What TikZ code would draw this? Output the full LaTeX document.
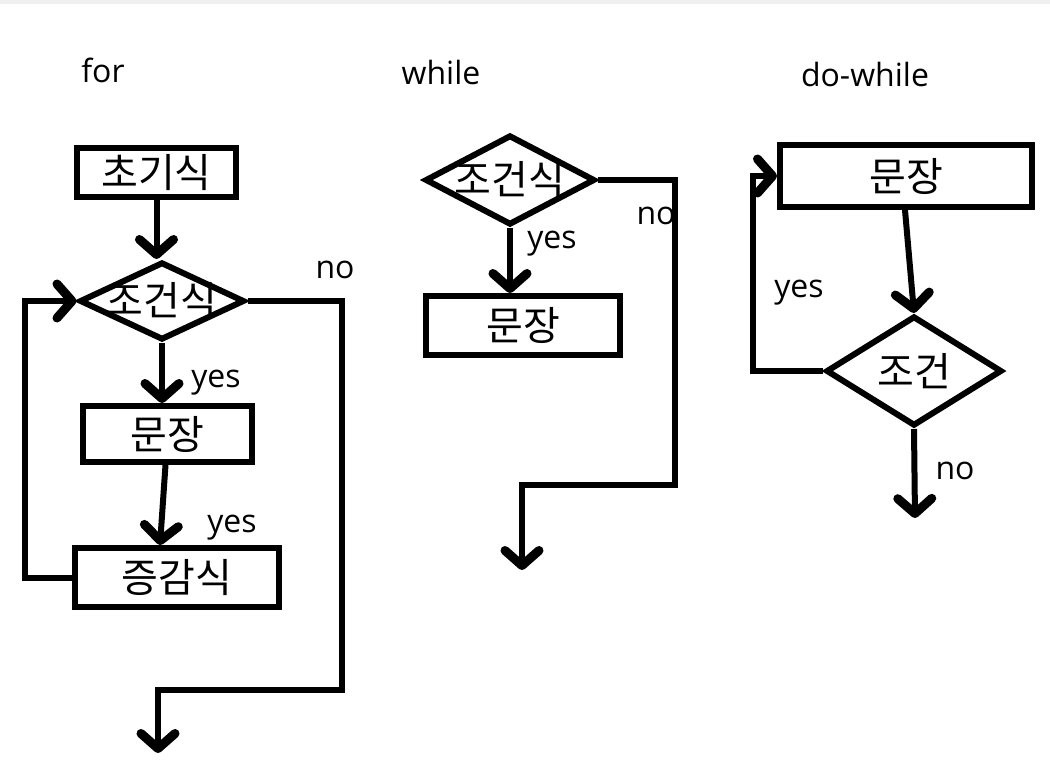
\documentclass[tikz,border=0pt]{standalone}
\usepackage{fontspec}
\setmainfont{Open Sans}
\newfontfamily\kor{Noto Sans CJK KR}
\usetikzlibrary{arrows.meta,shapes.geometric,positioning}

\begin{document}
\begin{tikzpicture}[x=1pt,y=-1pt,line width=6pt,
    >={Straight Barb[length=15pt,width=34pt,line width=3pt 1,round]},
    kfont/.style={font=\kor\fontsize{40}{44}\selectfont},
    box/.style={draw,rectangle,inner sep=0pt,kfont},
    cond/.style={draw,diamond,inner sep=0pt,label={[kfont,inner sep=0pt]center:#1}},
    lbl/.style={inner sep=0pt,font=\fontsize{32}{36}\selectfont}]

                \useasboundingbox (0,0) rectangle (1050,764);
                \fill[black!6] (0,0) rectangle (1050,4);

                % for
                \node[lbl] (forlbl) at (103,70) {for};
                \node[box,minimum width=159pt,minimum height=49pt] (init) at (156.5,172.5) {초기식};
                \node[cond=조건식,minimum width=165pt,minimum height=78pt] (cond1) at (162,301) {};
                \node[box,minimum width=169pt,minimum height=56pt] (body1) at (167.5,434) {문장};
                \node[box,minimum width=204pt,minimum height=59pt] (step1) at (177,577.5) {증감식};
                \coordinate (turn1) at (342,690);
                \coordinate (out1) at (158,753);

                \path[->] (init.south) edge (init.south |- cond1.north)
                          (cond1.south) edge (cond1.south |- body1.north)
                          ([xshift=-2pt]body1.south) edge ([xshift=-17pt]step1.north);
                \draw[->] (step1.west) -- ++(-47,0) |- (cond1.west);
                \draw[->] (cond1.east) -| (turn1) -| (out1);

                \node[lbl] (no1) at (335,270) {no};
                \node[lbl] (yes1) at (216,383) {yes};
                \node[lbl] (yes2) at (232,528) {yes};

                % while
                \node[lbl] (whilelbl) at (441,72) {while};
                \node[cond=조건식,minimum width=170pt,minimum height=90pt] (cond2) at (510,180) {};
                \node[box,minimum width=194pt,minimum height=59pt] (body2) at (523,325.5) {문장};
                \coordinate (turn2) at (675,485);
                \coordinate (out2) at (522,570);

                \draw[->] (cond2.south) -- (cond2.south |- body2.north);
                \node[lbl] (no2) at (656,216) {no};
                \draw[->] (cond2.east) -| (turn2) -| (out2);
                \node[lbl] (yes3) at (552,244) {yes};

                % do-while
                \node[lbl] (dowhilelbl) at (865,74) {do-while};
                \node[box,minimum width=252pt,minimum height=62pt] (body3) at (906,176) {문장};
                \node[cond=조건,minimum width=176pt,minimum height=110pt] (cond3) at (914,371) {};
                \coordinate (out3) at (915,518);

                \draw[->] ([xshift=-1pt]body3.south) -- (cond3.north);
                \draw[->] (cond3.west) -- ++(-70,0) |- (body3.west);
                \draw[->] (cond3.south) -- (out3);

                \node[lbl] (yes4) at (799,293) {yes};
                \node[lbl] (no3) at (955,471) {no};

            \end{tikzpicture}
\end{document}
